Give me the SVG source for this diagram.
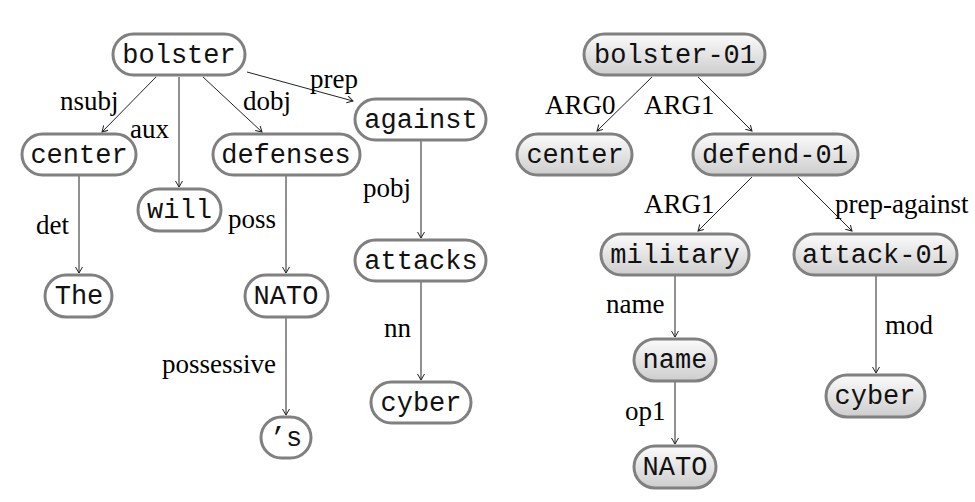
<svg xmlns="http://www.w3.org/2000/svg" width="975" height="502" viewBox="0 0 975 502">
<style>
  .node rect { stroke: #808080; stroke-width: 3; }
  .dep rect { fill: #ffffff; }
  .amr rect { fill: url(#grad); }
  .node text { font-family: "Liberation Mono", "Courier New", monospace; font-size: 27px; fill: #111; text-anchor: middle; }
  .lbl { font-family: "Liberation Serif", "Times New Roman", serif; font-size: 27px; fill: #000; }
  .edge { stroke: #222; stroke-width: 1; fill: none; marker-end: url(#arr); }
</style>
<defs>
  <linearGradient id="grad" x1="0" y1="0" x2="0" y2="1">
    <stop offset="0" stop-color="#fbfbfb"/>
    <stop offset="1" stop-color="#cdcdcd"/>
  </linearGradient>
  <marker id="arr" markerWidth="8" markerHeight="8" refX="6" refY="3.5" orient="auto" markerUnits="userSpaceOnUse">
    <path d="M0,0 L6,3.5 L0,7" fill="none" stroke="#222" stroke-width="1"/>
  </marker>
</defs>

<g id="connectors">
  <line class="edge" x1="156" y1="77" x2="102" y2="132"/>
  <line class="edge" x1="179" y1="77" x2="179" y2="187"/>
  <line class="edge" x1="203" y1="77" x2="262" y2="132"/>
  <line class="edge" x1="247" y1="72" x2="353" y2="101"/>
  <line class="edge" x1="79" y1="176" x2="79" y2="273"/>
  <line class="edge" x1="286" y1="176" x2="286" y2="273"/>
  <line class="edge" x1="286" y1="318" x2="286" y2="415"/>
  <line class="edge" x1="421" y1="141" x2="421" y2="238"/>
  <line class="edge" x1="421" y1="282" x2="421" y2="380"/>

  <line class="edge" x1="652" y1="77" x2="597" y2="131"/>
  <line class="edge" x1="698" y1="77" x2="752" y2="131"/>
  <line class="edge" x1="752" y1="177" x2="698" y2="231"/>
  <line class="edge" x1="798" y1="177" x2="852" y2="231"/>
  <line class="edge" x1="675" y1="276" x2="675" y2="337"/>
  <line class="edge" x1="675" y1="382" x2="675" y2="444"/>
  <line class="edge" x1="876" y1="276" x2="876" y2="373"/>

  <text class="lbl" x="60" y="110">nsubj</text>
  <text class="lbl" x="130" y="138">aux</text>
  <text class="lbl" x="243" y="110">dobj</text>
  <text class="lbl" x="310" y="88">prep</text>
  <text class="lbl" x="36" y="234">det</text>
  <text class="lbl" x="228" y="228">poss</text>
  <text class="lbl" x="363" y="197">pobj</text>
  <text class="lbl" x="162" y="373">possessive</text>
  <text class="lbl" x="384" y="337">nn</text>

  <text class="lbl" x="545" y="114">ARG0</text>
  <text class="lbl" x="644" y="114">ARG1</text>
  <text class="lbl" x="644" y="213">ARG1</text>
  <text class="lbl" x="835" y="213">prep-against</text>
  <text class="lbl" x="606" y="313">name</text>
  <text class="lbl" x="625" y="420">op1</text>
  <text class="lbl" x="885" y="334">mod</text>
</g>

<g id="dep-bolster" class="node dep"><rect x="113" y="34" width="132" height="41" rx="20.5"/><text x="179" y="63">bolster</text></g>
<g id="dep-center" class="node dep"><rect x="22" y="134" width="114" height="41" rx="20.5"/><text x="79" y="163">center</text></g>
<g id="dep-defenses" class="node dep"><rect x="213" y="134" width="147" height="41" rx="20.5"/><text x="286" y="163">defenses</text></g>
<g id="dep-against" class="node dep"><rect x="355" y="99" width="131" height="41" rx="20.5"/><text x="421" y="128">against</text></g>
<g id="dep-will" class="node dep"><rect x="138" y="189" width="83" height="42" rx="21"/><text x="179.5" y="218">will</text></g>
<g id="dep-the" class="node dep"><rect x="45" y="275" width="67" height="42" rx="21"/><text x="79" y="304">The</text></g>
<g id="dep-nato" class="node dep"><rect x="245" y="275" width="83" height="42" rx="21"/><text x="286" y="304">NATO</text></g>
<g id="dep-s" class="node dep"><rect x="261" y="417" width="50" height="41" rx="20.5"/><text x="286" y="446">’s</text></g>
<g id="dep-attacks" class="node dep"><rect x="355" y="240" width="131" height="41" rx="20.5"/><text x="421" y="269">attacks</text></g>
<g id="dep-cyber" class="node dep"><rect x="371" y="382" width="100" height="41" rx="20.5"/><text x="421" y="411">cyber</text></g>

<g id="amr-bolster" class="node amr"><rect x="584" y="34" width="181" height="41" rx="20.5"/><text x="675" y="63">bolster-01</text></g>
<g id="amr-center" class="node amr"><rect x="517" y="134" width="115" height="41" rx="20.5"/><text x="575" y="163">center</text></g>
<g id="amr-defend" class="node amr"><rect x="693" y="134" width="165" height="41" rx="20.5"/><text x="775" y="163">defend-01</text></g>
<g id="amr-military" class="node amr"><rect x="601" y="234" width="148" height="41" rx="20.5"/><text x="675" y="263">military</text></g>
<g id="amr-attack" class="node amr"><rect x="794" y="234" width="163" height="41" rx="20.5"/><text x="875" y="263">attack-01</text></g>
<g id="amr-name" class="node amr"><rect x="634" y="339" width="82" height="42" rx="21"/><text x="675" y="368">name</text></g>
<g id="amr-nato" class="node amr"><rect x="634" y="446" width="82" height="42" rx="21"/><text x="675" y="475">NATO</text></g>
<g id="amr-cyber" class="node amr"><rect x="826" y="375" width="99" height="42" rx="21"/><text x="875" y="404">cyber</text></g>
</svg>
